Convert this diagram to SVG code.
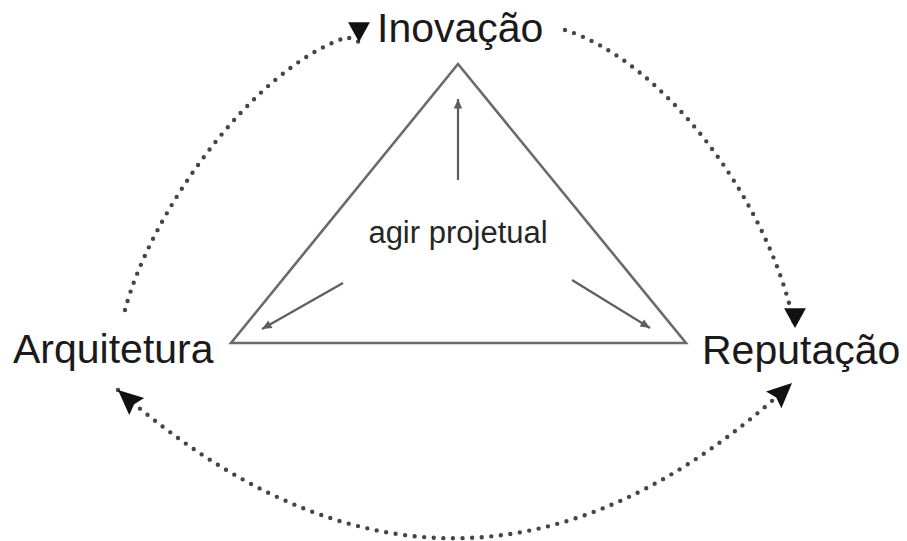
<svg xmlns="http://www.w3.org/2000/svg" width="907" height="541" viewBox="0 0 907 541">
  <defs>
    <style>
      .label { font-family: "Liberation Sans", Arial, Helvetica, sans-serif; fill: #1a1a1a; }
      .big { font-size: 41px; }
      .center { font-size: 31px; text-anchor: middle; fill: #262626; }
      .tri { fill: none; stroke: #6a6a6a; stroke-width: 2.6; stroke-linejoin: miter; }
      .inner { fill: none; stroke: #5e5e5e; stroke-width: 2.2; }
      .dotted { fill: none; stroke: #454545; stroke-width: 4.4; stroke-linecap: round; stroke-dasharray: 0 9.6; }
    </style>
    <marker id="ahDown" markerUnits="userSpaceOnUse" markerWidth="24" markerHeight="24" viewBox="0 -11 19 22" refX="18" refY="0" orient="90">
      <path d="M0,-10 L18,0 L0,10 z" fill="#111"/>
    </marker>
    <marker id="ahAuto" markerUnits="userSpaceOnUse" markerWidth="26" markerHeight="26" viewBox="0 -11 23 22" refX="22" refY="0" orient="auto-start-reverse">
      <path d="M0,-10 L22,0 L0,10 L3,0 z" fill="#111"/>
    </marker>
    <marker id="ahSmall" markerUnits="userSpaceOnUse" markerWidth="12" markerHeight="12" viewBox="0 -5 9 10" refX="8" refY="0" orient="auto">
      <path d="M0,-3.5 L8,0 L0,3.5 z" fill="#5e5e5e"/>
    </marker>
  </defs>

  <rect width="907" height="541" fill="#ffffff"/>

  <g id="connectors">
    <path class="dotted" d="M125,310 C150,215 250,70 347,37 L359,42" marker-end="url(#ahDown)"/>
    <path class="dotted" d="M565,30 C660,60 768,195 795,328" marker-end="url(#ahDown)"/>
    <path class="dotted" d="M118,390 Q460,690 792,383" marker-start="url(#ahAuto)" marker-end="url(#ahAuto)"/>
    <line class="inner" x1="458" y1="180" x2="458" y2="99" marker-end="url(#ahSmall)"/>
    <line class="inner" x1="343" y1="283" x2="262" y2="329" marker-end="url(#ahSmall)"/>
    <line class="inner" x1="572" y1="280" x2="650" y2="328" marker-end="url(#ahSmall)"/>
  </g>

  <g id="triangle">
    <polygon class="tri" points="458,64 231,343 686,343"/>
    <text class="label center" x="458" y="243">agir projetual</text>
  </g>

  <g id="node-inovacao">
    <text class="label big" x="377" y="42">Inovação</text>
  </g>
  <g id="node-arquitetura">
    <text class="label big" x="13" y="363">Arquitetura</text>
  </g>
  <g id="node-reputacao">
    <text class="label big" x="702" y="364">Reputação</text>
  </g>
</svg>
